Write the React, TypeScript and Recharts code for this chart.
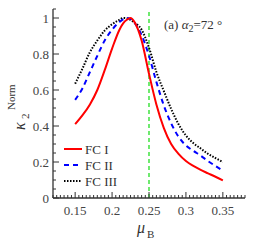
import { LineChart, Line, XAxis, YAxis, ReferenceLine } from 'recharts'

// mu_B sample points
const mu = [0.15, 0.16, 0.17, 0.18, 0.19, 0.2, 0.21, 0.215, 0.22, 0.225, 0.23, 0.24, 0.25, 0.26, 0.27, 0.28, 0.29, 0.3, 0.31, 0.32, 0.33, 0.34, 0.35]
const fc1 = [0.41, 0.46, 0.52, 0.6, 0.71, 0.83, 0.935, 0.97, 0.99, 1.0, 0.98, 0.875, 0.69, 0.52, 0.39, 0.3, 0.245, 0.205, 0.178, 0.156, 0.137, 0.118, 0.098]
const fc2 = [0.545, 0.61, 0.7, 0.79, 0.875, 0.935, 0.978, 0.993, 1.0, 0.995, 0.975, 0.905, 0.79, 0.645, 0.515, 0.415, 0.34, 0.292, 0.262, 0.235, 0.205, 0.178, 0.152]
const fc3 = [0.635, 0.72, 0.81, 0.875, 0.93, 0.965, 0.99, 1.0, 0.998, 0.99, 0.975, 0.935, 0.835, 0.7, 0.595, 0.495, 0.41, 0.347, 0.305, 0.275, 0.245, 0.222, 0.2]

const seriesNames = ['FC I', 'FC II', 'FC III']
const xMajor = [0.15, 0.2, 0.25, 0.3, 0.35]
const xLabels = ['0.15', '0.2', '0.25', '0.3', '0.35']
const yMajor = [0, 0.2, 0.4, 0.6, 0.8, 1]
const yLabels = ['0', '0.2', '0.4', '0.6', '0.8', '1']
const muCritical = 0.25

const data = mu.map((m, i) => ({ mu: m, fc1: fc1[i], fc2: fc2[i], fc3: fc3[i] }))

// minor ticks
const xTicks: number[] = []
for (let i = 24; i <= 76; i++) xTicks.push(Math.round(i * 5) / 1000)
const yTicks: number[] = []
for (let i = 0; i <= 21; i++) yTicks.push(Math.round(i * 5) / 100)

const AXIS = '#333'
const FONT = '"Liberation Serif", "DejaVu Serif", serif'

const isMajor = (list: number[], v: number) => list.findIndex(m => Math.abs(m - v) < 1e-6)

const BottomTick = (p: any) => {
  const { x, y, payload } = p
  const k = isMajor(xMajor, payload.value)
  return (
    <g>
      <line x1={x} x2={x} y1={y} y2={y - (k >= 0 ? 6 : 3)} stroke={AXIS} />
      {k >= 0 && (
        <text x={x} y={y + 17} textAnchor="middle" fontSize={13} fontFamily={FONT} fill="#444">{xLabels[k]}</text>
      )}
    </g>
  )
}

const TopTick = (p: any) => {
  const { x, y, payload } = p
  const k = isMajor(xMajor, payload.value)
  return <line x1={x} x2={x} y1={y} y2={y + (k >= 0 ? 6 : 3)} stroke={AXIS} />
}

const LeftTick = (p: any) => {
  const { x, y, payload } = p
  const k = isMajor(yMajor, payload.value)
  return (
    <g>
      <line x1={x} x2={x + (k >= 0 ? 6 : 3)} y1={y} y2={y} stroke={AXIS} />
      {k >= 0 && (
        <text x={x - 4} y={y + 5} textAnchor="end" fontSize={13} fontFamily={FONT} fill="#444">{yLabels[k]}</text>
      )}
    </g>
  )
}

const RightTick = (p: any) => {
  const { x, y, payload } = p
  const k = isMajor(yMajor, payload.value)
  return <line x1={x} x2={x - (k >= 0 ? 6 : 3)} y1={y} y2={y} stroke={AXIS} />
}

const legendStyles = [
  { stroke: '#ff0000', dash: undefined },
  { stroke: '#0000ff', dash: '5 4' },
  { stroke: '#000000', dash: '1.5 1.5' },
]

export default function App() {
  return (
    <div style={{ position: 'absolute', left: 0, top: 0, width: 258, height: 245, background: '#fff' }}>
      <LineChart width={258} height={245} data={data} margin={{ top: 9, right: 13, left: 0, bottom: 0 }}>
        <XAxis
          dataKey="mu"
          type="number"
          domain={[0.12, 0.38]}
          allowDataOverflow
          ticks={xTicks}
          interval={0}
          tick={BottomTick}
          tickLine={false}
          tickSize={0}
          tickMargin={0}
          height={47}
          axisLine={{ stroke: AXIS, strokeWidth: 1.3 }}
        />
        <XAxis
          xAxisId="top"
          orientation="top"
          type="number"
          domain={[0.12, 0.38]}
          allowDataOverflow
          ticks={xTicks}
          interval={0}
          tick={TopTick}
          tickLine={false}
          tickSize={0}
          tickMargin={0}
          height={0}
          axisLine={{ stroke: AXIS, strokeWidth: 1.3 }}
        />
        <YAxis
          type="number"
          domain={[0, 1.05]}
          allowDataOverflow
          ticks={yTicks}
          interval={0}
          tick={LeftTick}
          tickLine={false}
          tickSize={0}
          tickMargin={0}
          width={53}
          axisLine={{ stroke: AXIS, strokeWidth: 1.3 }}
        />
        <YAxis
          yAxisId="right"
          orientation="right"
          type="number"
          domain={[0, 1.05]}
          allowDataOverflow
          ticks={yTicks}
          interval={0}
          tick={RightTick}
          tickLine={false}
          tickSize={0}
          tickMargin={0}
          width={0}
          axisLine={{ stroke: AXIS, strokeWidth: 1.3 }}
        />
        <ReferenceLine x={muCritical} stroke="#22dd22" strokeWidth={1.3} strokeDasharray="4 3" />
        <Line type="monotone" dataKey="fc3" stroke="#000" strokeWidth={2} strokeDasharray="1.5 1.5" dot={false} isAnimationActive={false} />
        <Line type="monotone" dataKey="fc2" stroke="#0000ff" strokeWidth={2} strokeDasharray="5 4" dot={false} isAnimationActive={false} />
        <Line type="monotone" dataKey="fc1" stroke="#ff0000" strokeWidth={2} dot={false} isAnimationActive={false} />
      </LineChart>
      <svg width={258} height={245} style={{ position: 'absolute', left: 0, top: 0, pointerEvents: 'none' }} fontFamily={FONT} fill="#333">
        <g transform="translate(25,130) rotate(-90)">
          <text x={0} y={0} fontSize={16} fontStyle="italic">κ</text>
          <text x={11} y={4} fontSize={11}>2</text>
          <text x={20} y={-10} fontSize={11}>Norm</text>
        </g>
        <text x={137} y={233} fontSize={16} fontStyle="italic">μ</text>
        <text x={147} y={238} fontSize={11}>B</text>
        <text x={164} y={29} fontSize={13}>
          (a) <tspan fontStyle="italic">α</tspan>
          <tspan fontSize={10} dy={3}>2</tspan>
          <tspan dy={-3}>=72 °</tspan>
        </text>
        {seriesNames.map((n, i) => {
          const y = 149 + i * 16
          return (
            <g key={n}>
              <line x1={64} x2={82} y1={y} y2={y} stroke={legendStyles[i].stroke} strokeWidth={2} strokeDasharray={legendStyles[i].dash} />
              <text x={85} y={y + 5} fontSize={13}>{n}</text>
            </g>
          )
        })}
      </svg>
    </div>
  )
}
